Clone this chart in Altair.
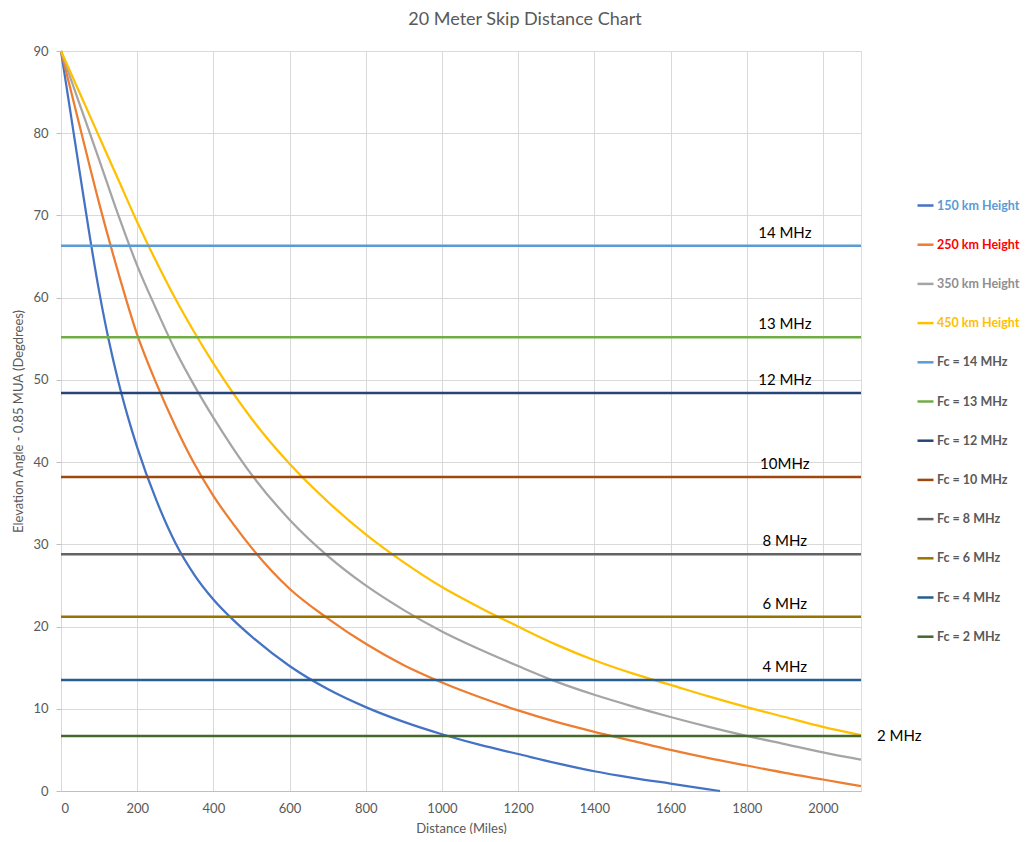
import altair as alt
import pandas as pd

FONT = "Lato"
GRAY_TXT = "#595959"

# ---------------- data ----------------
series_names = ["150 km Height", "250 km Height", "350 km Height", "450 km Height",
                "Fc = 14 MHz", "Fc = 13 MHz", "Fc = 12 MHz", "Fc = 10 MHz",
                "Fc = 8 MHz", "Fc = 6 MHz", "Fc = 4 MHz", "Fc = 2 MHz"]
series_colors = ["#4472C4", "#ED7D31", "#A5A5A5", "#FFC000",
                 "#5B9BD5", "#70AD47", "#264478", "#9E480E",
                 "#636363", "#997300", "#255E91", "#43682B"]
label_colors = ["#5B9BD5", "#FF0000", "#8F8F8F", "#FFC000",
                "#595959", "#595959", "#595959", "#595959",
                "#595959", "#595959", "#595959", "#595959"]

dist_150 = [0, 25, 50, 75, 100, 125, 150, 175, 200, 250, 300, 350, 400, 450, 500,
            600, 700, 800, 900, 1000, 1100, 1200, 1300, 1400, 1500, 1600, 1700, 1730]
ang_150 = [90, 82.5, 75.0, 67.6, 60.8, 54.9, 49.9, 45.6, 41.8, 35.4, 30.2, 26.3, 23.3, 20.9, 18.8,
           15.2, 12.4, 10.2, 8.4, 6.9, 5.6, 4.5, 3.4, 2.4, 1.6, 0.9, 0.2, 0]

dist_250 = [0, 50, 100, 150, 200, 250, 300, 350, 400, 450, 500, 600, 700, 800, 900,
            1000, 1100, 1200, 1300, 1400, 1500, 1600, 1700, 1800, 1900, 2000, 2100]
ang_250 = [90, 80.7, 71.5, 63.1, 55.5, 49.6, 44.4, 39.8, 35.9, 32.6, 29.6, 24.6, 21.0, 17.9, 15.3,
           13.2, 11.4, 9.8, 8.4, 7.2, 6.1, 5.0, 4.0, 3.1, 2.2, 1.4, 0.6]

dist_350 = [0, 50, 100, 150, 200, 250, 300, 350, 400, 450, 500, 600, 700, 800, 900,
            1000, 1100, 1200, 1300, 1400, 1500, 1600, 1700, 1800, 1900, 2000, 2100]
ang_350 = [90, 83.4, 76.8, 70.1, 63.9, 58.6, 53.6, 49.3, 45.4, 41.8, 38.5, 33.0, 28.6, 25.0, 22.0,
           19.4, 17.2, 15.2, 13.3, 11.7, 10.3, 9.0, 7.8, 6.7, 5.7, 4.7, 3.8]

dist_450 = [0, 50, 100, 150, 200, 250, 300, 350, 400, 450, 500, 600, 700, 800, 900,
            1000, 1100, 1200, 1300, 1400, 1500, 1600, 1700, 1800, 1900, 2000, 2100]
ang_450 = [90, 84.8, 79.6, 74.4, 69.2, 64.4, 59.9, 55.8, 52.0, 48.5, 45.3, 39.8, 35.2, 31.2, 27.8,
           24.8, 22.3, 20.0, 17.8, 15.9, 14.3, 12.9, 11.5, 10.2, 9.0, 7.8, 6.8]

fc_angles = [66.3, 55.2, 48.4, 38.2, 28.8, 21.2, 13.5, 6.7]
fc_text = ["14 MHz", "13 MHz", "12 MHz", "10MHz", "8 MHz", "6 MHz", "4 MHz", "2 MHz"]
x_extent = [0, 2100]
label_dist = 1900

x_ticks = list(range(0, 2001, 200))
y_ticks = list(range(0, 91, 10))

# ---------------- tables ----------------
curve_rows = []
for name, ds, angs in zip(series_names[:4],
                          [dist_150, dist_250, dist_350, dist_450],
                          [ang_150, ang_250, ang_350, ang_450]):
    for d, a in zip(ds, angs):
        curve_rows.append({"series": name, "dist": d, "angle": a})
curve_df = pd.DataFrame(curve_rows)

fc_rows = []
for name, a in zip(series_names[4:], fc_angles):
    for d in x_extent:
        fc_rows.append({"series": name, "dist": d, "angle": a})
fc_df = pd.DataFrame(fc_rows)

lab_df = pd.DataFrame({"text": fc_text[:-1], "angle": fc_angles[:-1]})
lab_df["dist"] = label_dist
lab2_df = pd.DataFrame({"text": fc_text[-1:], "angle": fc_angles[-1:]})
lab2_df["dist"] = x_extent[1]

# ---------------- encodings ----------------
x_enc = alt.X("dist:Q", title="Distance  (Miles)",
              scale=alt.Scale(domain=x_extent, nice=False, zero=False),
              axis=alt.Axis(values=x_ticks, format="d", grid=True, gridColor="#D9D9D9", ticks=False,
                            domain=True, domainColor="#BFBFBF", labelPadding=11,
                            labelFontSize=13, labelColor=GRAY_TXT, labelFont=FONT,
                            titleFont=FONT, titleFontSize=13, titleColor=GRAY_TXT,
                            titleFontWeight="normal", titlePadding=7))
y_enc = alt.Y("angle:Q", title="Elevation Angle - 0.85 MUA (Degdrees)",
              scale=alt.Scale(domain=[0, 90], nice=False),
              axis=alt.Axis(values=y_ticks, grid=True, gridColor="#D9D9D9", ticks=True,
                            tickColor="#BFBFBF", tickSize=5, domain=False, labelPadding=8,
                            labelFontSize=13, labelColor=GRAY_TXT, labelFont=FONT,
                            titleFont=FONT, titleFontSize=13, titleColor=GRAY_TXT,
                            titleFontWeight="normal", titlePadding=7))

expr = "'#595959'"
for n, c in zip(series_names, label_colors):
    if c != "#595959":
        expr = f"datum.value === '{n}' ? '{c}' : ({expr})"

color_enc = alt.Color("series:N",
                      scale=alt.Scale(domain=series_names, range=series_colors),
                      legend=alt.Legend(title=None, orient="none", legendX=855, legendY=145,
                                        symbolType="stroke", symbolSize=256,
                                        symbolStrokeWidth=2.5, labelFont=FONT,
                                        labelFontSize=12.5, labelFontWeight="bold",
                                        labelColor={"expr": expr}, labelOffset=2,
                                        rowPadding=23.2, padding=0, labelLimit=200))

curves = alt.Chart(curve_df).mark_line(strokeWidth=2.25, interpolate="monotone").encode(
    x=x_enc, y=y_enc, color=color_enc)
fclines = alt.Chart(fc_df).mark_line(strokeWidth=2.5).encode(
    x=x_enc, y=y_enc, color=color_enc)
labels = alt.Chart(lab_df).mark_text(align="center", baseline="bottom", dy=-5,
                                     font=FONT, fontSize=15, color="black").encode(
    x=x_enc, y=y_enc, text="text:N")
labels2 = alt.Chart(lab2_df).mark_text(align="left", baseline="middle", dx=16,
                                       font=FONT, fontSize=15, color="black").encode(
    x=x_enc, y=y_enc, text="text:N")

chart = alt.layer(curves, fclines, labels, labels2).properties(
    width=800, height=740,
    title=alt.TitleParams("20 Meter Skip Distance Chart", font=FONT, fontSize=18,
                          fontWeight="normal", color=GRAY_TXT, anchor="middle",
                          frame="group", dx=64, offset=16),
    autosize=alt.AutoSizeParams(type="none"),
    padding={"left": 53, "top": 43, "right": 164, "bottom": 43},
).configure_view(strokeWidth=0).configure(background="white")

chart.save("out.html", embed_options={"renderer": "svg", "actions": False})
